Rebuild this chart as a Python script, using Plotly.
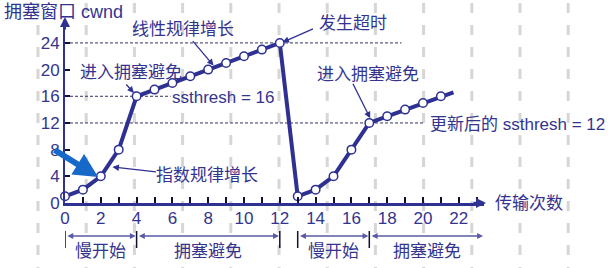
import plotly.graph_objects as go

# ---- data ----
rounds = [0, 1, 2, 3, 4, 5, 6, 7, 8, 9, 10, 11, 12, 13, 14, 15, 16, 17, 18, 19, 20, 21]
cwnd = [1, 2, 4, 8, 16, 17, 18, 19, 20, 21, 22, 23, 24, 1, 2, 4, 8, 12, 13, 14, 15, 16]
tail_round = [21.7]
tail_cwnd = [16.6]
x_ticks = [0, 2, 4, 6, 8, 10, 12, 14, 16, 18, 20, 22]
y_ticks = [0, 4, 8, 12, 16, 20, 24]
ssthresh_lines = [(24, 18.8), (16, 5.9), (12, 20.0)]   # (level, end round)
phase_bounds = [0, 4, 12, 13, 17]
phases = [("慢开始", 0, 4), ("拥塞避免", 4, 12), ("慢开始", 13, 17), ("拥塞避免", 17, 23.4)]

W, H = 611, 268
def px(x):
    return x / W
def py(y):
    return 1 - y / H

DARK = "#2e3192"
TXT = "#34348f"
BR = "#5a5aa6"
LAT = "Liberation Sans, Arial, Noto Sans CJK SC, sans-serif"
CJK = "Noto Sans CJK SC, sans-serif"

fig = go.Figure()

fig.add_trace(go.Scatter(
    x=rounds + tail_round, y=cwnd + tail_cwnd, mode="lines",
    line=dict(color=DARK, width=4), cliponaxis=False, hoverinfo="skip"))
fig.add_trace(go.Scatter(
    x=rounds, y=cwnd, mode="markers",
    marker=dict(size=8.5, color="white", line=dict(color=DARK, width=1.5)),
    cliponaxis=False))

shapes = []
# background watermark dashes
for k in range(12):
    xx = px(38 + 48.2 * k)
    shapes.append(dict(type="line", xref="paper", yref="paper", x0=xx, x1=xx,
                       y0=py(3), y1=0, layer="below",
                       line=dict(color="#d6d6d6", width=3, dash="10px,12px")))
# dashed ssthresh lines
for lvl, xe in ssthresh_lines:
    shapes.append(dict(type="line", xref="x", yref="y", x0=0, x1=xe, y0=lvl, y1=lvl,
                       layer="below", line=dict(color="#333366", width=1, dash="3px,2px")))
# phase bracket ticks
for b in phase_bounds:
    shapes.append(dict(type="line", xref="x", yref="paper", x0=b, x1=b,
                       y0=py(231), y1=py(248), line=dict(color="#111133", width=1.5)))

ann = []
def text(t, x, y, xa="center", size=17, font=CJK, color=TXT):
    ann.append(dict(text=t, xref="paper", yref="paper", x=px(x), y=py(y),
                    xanchor=xa, yanchor="middle", showarrow=False,
                    font=dict(family=font, size=size, color=color)))

def arrow(x, y, ax, ay, color=DARK, width=1.3, head=2, size=1.0):
    ann.append(dict(text="", x=x, y=y, xref="x", yref="y", ax=ax, ay=ay,
                    showarrow=True, arrowhead=head, arrowsize=size, arrowwidth=width,
                    arrowcolor=color, standoff=0, startstandoff=0))

text("拥塞窗口 cwnd", 2, 12, xa="left", size=18, font=LAT)
text("线性规律增长", 183, 27)
text("发生超时", 353, 21)
text("进入拥塞避免", 131, 70)
text("进入拥塞避免", 368, 73)
text("ssthresh = 16", 170, 97, xa="left", font=LAT)
text("更新后的 ssthresh = 12", 428, 124, xa="left", font=LAT)
text("指数规律增长", 207, 173)
text("传输次数", 529, 201)
for name, a, b in phases:
    cx = (a + b) / 2
    ann.append(dict(text=name, xref="x", yref="paper", x=cx, y=py(249),
                    xanchor="center", yanchor="middle", showarrow=False,
                    font=dict(family=CJK, size=17, color=TXT)))
    ann.append(dict(text="", xref="x", yref="paper", x=b - 0.05, y=py(236),
                    axref="x", ax=a + 0.05, ayref="pixel", ay=0,
                    showarrow=True, arrowhead=2, arrowside="end+start",
                    arrowsize=0.9, arrowwidth=1.3, arrowcolor=BR,
                    standoff=0, startstandoff=0))

arrow(8.3, 20.6, -22, -26)
arrow(12.15, 24.1, 32, -14)
arrow(3.85, 16.5, -9, -10)
arrow(17.05, 12.7, -18, -36)
arrow(2.65, 5.4, 45, 5)
# big blue arrow
arrow(1.85, 3.9, -45, -28, color="#1769c9", width=6, head=2, size=0.8)
# axis arrowheads
ann.append(dict(text="", xref="paper", yref="paper", x=px(486), y=py(203),
                ax=-14, ay=0, showarrow=True, arrowhead=2, arrowsize=0.8,
                arrowwidth=2.5, arrowcolor=DARK, standoff=0))
ann.append(dict(text="", xref="paper", yref="paper", x=px(65), y=py(17),
                ax=0, ay=14, showarrow=True, arrowhead=2, arrowsize=1,
                arrowwidth=2, arrowcolor=DARK, standoff=0))

fig.update_layout(
    width=W, height=H, margin=dict(l=0, r=0, t=0, b=0),
    paper_bgcolor="white", plot_bgcolor="rgba(0,0,0,0)",
    showlegend=False, shapes=shapes, annotations=ann,
    xaxis=dict(domain=[px(65), px(484)], range=[0, (484 - 65) / 17.9],
               tickvals=x_ticks, ticks="inside", ticklen=6, tickwidth=1.5,
               tickcolor="#111133", ticklabelstandoff=-2,
               minor=dict(dtick=1, tick0=0, ticks="inside", ticklen=6,
                          tickwidth=1.5, tickcolor="#111133"),
               showline=True, linecolor=DARK, linewidth=3,
               showgrid=False, zeroline=False, automargin=False,
               tickfont=dict(family=LAT, size=17, color=TXT)),
    yaxis=dict(domain=[py(203), py(20)], range=[0, 183 / 6.67],
               tickvals=y_ticks, ticks="inside", ticklen=5, tickwidth=1.5,
               tickcolor="#111133", automargin=False,
               showline=True, linecolor=DARK, linewidth=2,
               showgrid=False, zeroline=False,
               tickfont=dict(family=LAT, size=17, color=TXT)),
)

fig.write_html("out.html")
